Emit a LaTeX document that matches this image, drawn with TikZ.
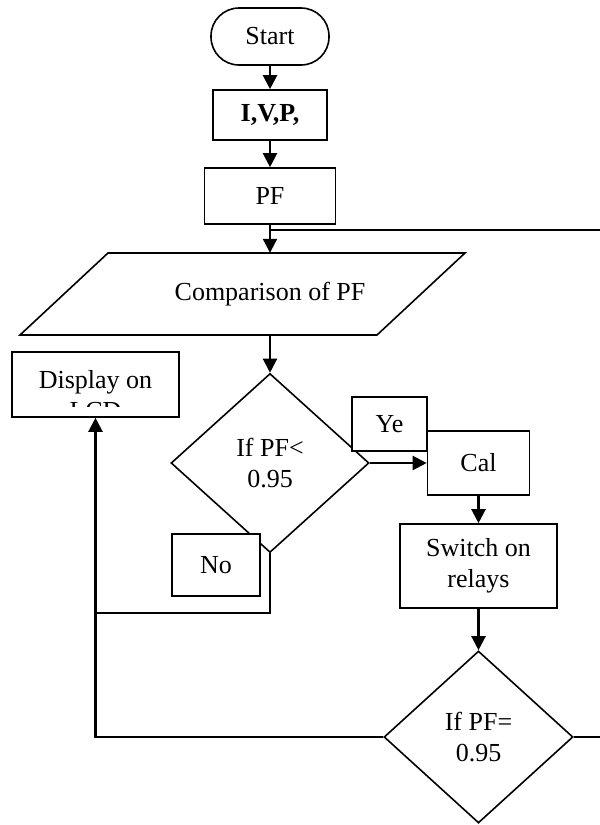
\documentclass[tikz,border=0pt]{standalone}
\usepackage{fontspec}
\setmainfont{Liberation Serif}
\usetikzlibrary{arrows.meta,shapes.geometric}

\begin{document}
\begin{tikzpicture}[x=1pt,y=-1pt,
    font=\fontsize{26}{31}\selectfont,
    box/.style={draw,line width=1.6pt,inner sep=0pt,align=center,fill=white},
    decision/.style={diamond,draw,line width=1.6pt,inner sep=0pt,align=center},
    flow/.style={line width=2.2pt,-{Triangle[length=14pt,width=14pt]}},
    wire/.style={line width=2pt}]
  \useasboundingbox (0,0) rectangle (600,825);

  % main column
  \node[box,rounded corners=28pt,minimum width=118pt,minimum height=57pt] (start) at (270,36.5) {Start};
  \node[box,minimum width=114pt,minimum height=50pt] (ivp) at (270,115) {\bfseries I,V,P,};
  \node[box,minimum width=131pt,minimum height=56pt] (pf) at (270,196) {PF};
  \node[minimum height=82pt,inner sep=0pt] (cmp) at (270,294) {Comparison of PF};
  \draw[line width=1.6pt] (108,253) -- (465,253) -- (377,335) -- (20,335) -- cycle;

  \node[decision,minimum width=198pt,minimum height=179pt] (d1) at (270,463) {If PF<\\0.95};
  \node[box,minimum width=75pt,minimum height=54pt] (yes) at (389.5,424) {Ye};
  \node[box,minimum width=88pt,minimum height=62pt] (no) at (216,565) {No};
  \node[box,minimum width=102pt,minimum height=64pt] (cal) at (478.5,463) {Cal};
  \node[box,minimum width=157pt,minimum height=84pt] (sw) at (478.5,566) {Switch on\\relays};
  \node[decision,minimum width=189pt,minimum height=172pt] (d2) at (478.5,737) {If PF=\\0.95};

  % display box, second line cut off
  \node[box,minimum width=167pt,minimum height=65pt] (disp) at (95.5,384.5) {};
  \begin{scope}
    \clip (disp.north west) rectangle ([yshift=11pt]disp.south east);
    \node[align=center] (dispText) at (95.5,395) {Display on\\LCD};
  \end{scope}

  \coordinate (join) at (95.5,613);
  \coordinate (fbIn) at (270,230);
  \coordinate (fbRight) at (603,230);

  % connectors
  \draw[flow] (start) -- (ivp);
  \draw[flow] (ivp) -- (pf);
  \draw[flow] (pf) -- (cmp.north);
  \draw[flow] (cmp.south) -- (d1.north);
  \draw[flow] (d1.east) -- (cal.west);
  \draw[flow] (cal) -- (sw);
  \draw[flow] (sw) -- (d2.north);
  \draw[wire] (d1.south) |- (join);
  \draw[flow] (d2.west) -| (disp.south);
  \draw[wire] (d2.east) -| (fbRight) -- (fbIn);
\end{tikzpicture}
\end{document}
